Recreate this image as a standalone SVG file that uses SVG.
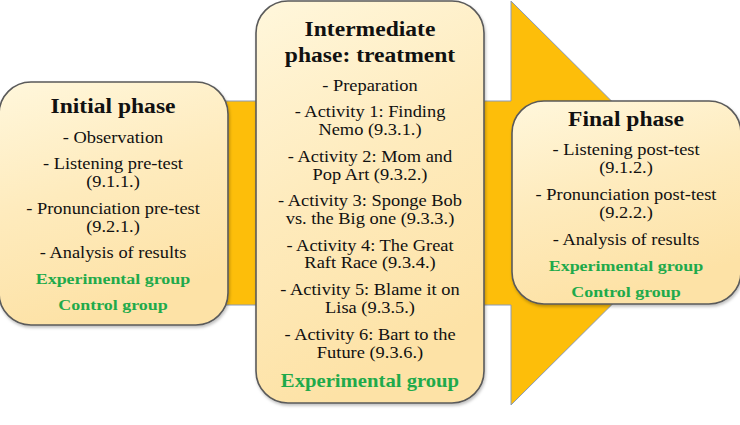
<svg xmlns="http://www.w3.org/2000/svg" width="740" height="425" viewBox="0 0 740 425">
<defs>
<linearGradient id="boxg" x1="0" y1="0" x2="0.3" y2="1">
<stop offset="0" stop-color="#fff7dc"/>
<stop offset="0.5" stop-color="#feebbd"/>
<stop offset="1" stop-color="#fde2a6"/>
</linearGradient>
<filter id="sh" x="-10%" y="-10%" width="120%" height="120%">
<feDropShadow dx="1" dy="2" stdDeviation="1.5" flood-color="#000" flood-opacity="0.25"/>
</filter>
</defs>
<style>
.box{fill:url(#boxg);stroke:#5a5a5a;stroke-width:1.6;filter:url(#sh)}
text{font-family:'Liberation Serif','Times New Roman',serif;text-anchor:middle;fill:#111}
.t{font-size:20.5px;font-weight:bold}
.b{font-size:16px}
.g{font-size:15.6px;font-weight:bold;fill:#1faa4b}
.arrow{fill:#fdbe0a;stroke:#8a9ab8;stroke-width:1}
</style>
<rect width="740" height="425" fill="#ffffff"/>
<g id="connectors">
<path class="arrow" d="M10,101 L511,101 L511,1 L714,203 L511,405 L511,305 L10,305 Z"/>
</g>
<g id="initial">
<rect class="box" x="-1" y="82" width="229" height="243" rx="32" ry="32"/>
<g transform="translate(113 0) scale(1.15 1)">
<text class="t" x="0" y="113">Initial phase</text>
<text class="b" x="0" y="143">- Observation</text>
<text class="b" x="0" y="169">- Listening pre-test</text>
<text class="b" x="0" y="187">(9.1.1.)</text>
<text class="b" x="0" y="214">- Pronunciation pre-test</text>
<text class="b" x="0" y="232">(9.2.1.)</text>
<text class="b" x="0" y="258">- Analysis of results</text>
<text class="g" x="0" y="284">Experimental group</text>
<text class="g" x="0" y="310">Control group</text>
</g>
</g>
<g id="intermediate">
<rect class="box" x="256" y="1" width="228" height="402" rx="32" ry="32"/>
<g transform="translate(370 0) scale(1.15 1)">
<text class="t" x="0" y="36">Intermediate</text>
<text class="t" x="0" y="62">phase: treatment</text>
<text class="b" x="0" y="91">- Preparation</text>
<text class="b" x="0" y="117">- Activity 1: Finding</text>
<text class="b" x="0" y="135">Nemo (9.3.1.)</text>
<text class="b" x="0" y="162">- Activity 2: Mom and</text>
<text class="b" x="0" y="180">Pop Art (9.3.2.)</text>
<text class="b" x="0" y="206">- Activity 3: Sponge Bob</text>
<text class="b" x="0" y="224">vs. the Big one (9.3.3.)</text>
<text class="b" x="0" y="251">- Activity 4: The Great</text>
<text class="b" x="0" y="268">Raft Race (9.3.4.)</text>
<text class="b" x="0" y="295">- Activity 5: Blame it on</text>
<text class="b" x="0" y="313">Lisa (9.3.5.)</text>
<text class="b" x="0" y="340">- Activity 6: Bart to the</text>
<text class="b" x="0" y="358">Future (9.3.6.)</text>
<text class="g" x="0" y="387" style="font-size:18px">Experimental group</text>
</g>
</g>
<g id="final">
<rect class="box" x="512" y="101" width="229" height="203" rx="32" ry="32"/>
<g transform="translate(626 0) scale(1.15 1)">
<text class="t" x="0" y="126">Final phase</text>
<text class="b" x="0" y="155">- Listening post-test</text>
<text class="b" x="0" y="173">(9.1.2.)</text>
<text class="b" x="0" y="200">- Pronunciation post-test</text>
<text class="b" x="0" y="218">(9.2.2.)</text>
<text class="b" x="0" y="245">- Analysis of results</text>
<text class="g" x="0" y="271">Experimental group</text>
<text class="g" x="0" y="297">Control group</text>
</g>
</g>
</svg>
